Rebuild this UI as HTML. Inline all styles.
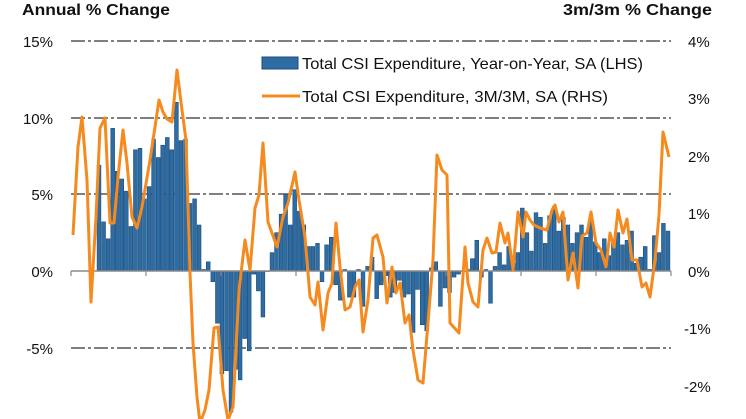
<!DOCTYPE html>
<html><head><meta charset="utf-8"><style>
html,body{margin:0;padding:0;background:#fff;}
svg{display:block;font-family:"Liberation Sans",sans-serif;}
</style></head><body>
<svg id="c" width="746" height="419" viewBox="0 0 746 419">
<g font-size="16" font-weight="bold" fill="#111">
<text x="22" y="15" textLength="148" lengthAdjust="spacingAndGlyphs">Annual % Change</text>
<text x="563" y="15" textLength="149" lengthAdjust="spacingAndGlyphs">3m/3m % Change</text>
</g>
<g stroke="#7f7f7f" stroke-width="2" stroke-dasharray="14,3,3,3">
<line x1="71" x2="671" y1="41" y2="41"/>
<line x1="71" x2="671" y1="118" y2="118"/>
<line x1="71" x2="671" y1="194" y2="194"/>
<line x1="71" x2="671" y1="348" y2="348"/>
</g>
<g font-size="15" fill="#111">
<text x="53" y="47" text-anchor="end">15%</text>
<text x="53" y="124" text-anchor="end">10%</text>
<text x="53" y="200" text-anchor="end">5%</text>
<text x="53" y="277" text-anchor="end">0%</text>
<text x="53" y="354" text-anchor="end">-5%</text>
<text x="53" y="430" text-anchor="end">-10%</text>
<text x="688" y="47">4%</text>
<text x="688" y="104">3%</text>
<text x="688" y="162">2%</text>
<text x="688" y="219">1%</text>
<text x="688" y="277">0%</text>
<text x="684" y="334">-1%</text>
<text x="684" y="392">-2%</text>
</g>
<g id="bars" fill="#2e6ca4" stroke="#1f4e79" stroke-width="0.6"></g>
<line x1="71" x2="671" y1="271" y2="271" stroke="#8a8a8a" stroke-width="1.5"/>
<g id="ticks" stroke="#8a8a8a" stroke-width="1.2"></g>
<polyline fill="none" stroke="#f58a1f" stroke-width="3" stroke-linejoin="round" points="73,235 78,147 82,117 87,180 91,302 96,217 100,128 105,118 110,223 114,223 118,177 123,130 127,163 132,217 137,228 142,207 150,160 155,127 159,100 163,112 167,119 172,122 177,70 182,110 186,140 190,273 193,343 197,397 200,423 205,410 209,390 214,328 218,327 223,390 228,420 233,407 239,290 245,240 250,270 255,208 259,195 263,143 268,222 277,247 283,217 288,203 295,172 299,200 305,237 310,297 315,305 318,282 323,330 328,293 332,283 336,223 340,267 345,310 350,307 355,287 359,280 363,332 368,300 373,238 377,235 383,257 387,303 392,267 396,293 400,283 405,323 409,315 413,350 418,380 423,383 428,323 433,260 437,155 442,170 447,175 450,323 459,333 465,247 468,283 473,302 478,307 483,250 487,238 492,253 496,252 500,223 505,243 508,233 513,270 518,212 523,237 526,212 530,220 534,225 540,228 547,230 552,210 555,205 559,222 563,212 568,280 573,253 578,288 582,236 587,233 591,212 596,243 601,250 606,267 610,233 614,247 618,210 623,233 627,219 632,260 637,260 642,287 646,283 650,297 655,260 659,215 663,132 669,157"/>
<g font-size="16" fill="#111">
<rect x="262" y="57" width="36" height="12" fill="#2e6ca4" stroke="#1f4e79" stroke-width="1"/>
<text x="302" y="69" textLength="341" lengthAdjust="spacingAndGlyphs">Total CSI Expenditure, Year-on-Year, SA (LHS)</text>
<line x1="262" x2="300" y1="96" y2="96" stroke="#f58a1f" stroke-width="3"/>
<text x="302" y="102" textLength="306" lengthAdjust="spacingAndGlyphs">Total CSI Expenditure, 3M/3M, SA (RHS)</text>
</g>
</svg>
<script>
var v=[6.9,3.2,2.1,9.3,6.5,6.0,5.2,2.9,7.9,8.0,4.7,5.5,8.6,7.4,8.2,8.7,7.9,11.0,8.5,8.6,4.4,4.7,3.0,0.1,0.6,-0.7,-3.4,-6.7,-6.5,-9.2,-6.4,-7.1,-4.4,-5.2,-0.2,-1.3,-3.0,0,1.2,2.5,3.7,5.0,3.0,5.3,3.9,3.0,1.6,1.6,1.8,-0.7,1.7,2.2,-0.9,-1.9,0.1,-1.7,-1.7,0.1,-2.3,0.3,0.9,-1.8,
-0.9,-0.3,-1.7,-1.4,-0.6,-1.7,-1.5,-4.0,-1.2,-3.5,-3.9,0.2,0.6,-2.3,-1.1,-1.4,-0.4,-0.2,0,0.1,0.8,2.0,-0.4,0.1,-2.1,0.3,1.2,0.4,1.6,0.5,1.2,4.1,2.5,1.3,3.8,3.5,1.8,3.6,4.2,2.6,3.5,3.0,1.8,2.5,3.0,2.2,3.3,1.9,1.2,2.1,1.0,2.0,2.5,1.7,2.0,2.6,0.5,0.9,1.6,0.1,2.3,1.2,3.1,2.6];
var n=v.length,x0=99,x1=668,st=(x1-x0)/(n-1),s="";
for(var i=0;i<n;i++){var x=x0+i*st,h=v[i]*15.34,y=h>0?271-h:271;s+='<rect x="'+(x-1.9).toFixed(1)+'" y="'+y.toFixed(1)+'" width="3.8" height="'+Math.max(Math.abs(h),0.5).toFixed(1)+'"/>';}
document.getElementById('bars').innerHTML=s;
var t="";for(var k=0;k<=8;k++){var tx=71+k*75;t+='<line x1="'+tx+'" x2="'+tx+'" y1="271" y2="276"/>';}
document.getElementById('ticks').innerHTML=t;
</script>
</body></html>
